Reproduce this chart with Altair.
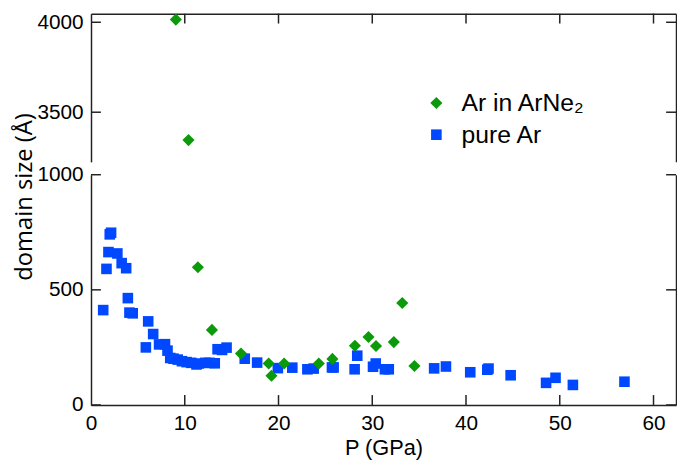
import altair as alt
import pandas as pd

series_names = ["Ar in ArNe₂", "pure Ar"]
series_colors = ["#0a9a0a", "#0048ff"]
series_shapes = ["diamond", "square"]

arne2_p = [9.05, 10.4, 11.4, 12.9, 16.0, 18.95, 19.25, 20.6, 24.3, 25.75, 28.15,
           29.6, 30.4, 32.3, 33.2, 34.5]
arne2_d = [4015, 3345, 598, 326, 223, 180, 127, 180, 180, 200, 257,
           295, 256, 273, 443, 169]

pure_p = [1.3, 1.65, 1.86, 2.0, 2.14, 2.81, 3.27, 3.75, 3.93, 4.1,
          4.45, 5.85, 6.1, 6.63, 7.26, 7.89, 8.16, 8.45, 8.8, 9.25,
          9.7, 10.2, 10.68, 11.25, 11.5, 12.2, 12.65, 13.2, 13.5, 13.98,
          14.46, 16.4, 17.72, 19.93, 21.47, 23.08, 23.75, 25.7, 25.88, 28.12,
          28.4, 30.08, 30.37, 31.35, 31.76, 36.6, 37.86, 40.45, 42.27, 42.4,
          44.76, 48.54, 49.55, 51.4, 56.9]
pure_d = [412, 591, 664, 741, 748, 658, 616, 594, 464, 401,
          398, 250, 363, 308, 263, 264, 236, 204, 201, 197,
          190, 186, 183, 176, 180, 183, 183, 181, 242, 239,
          249, 201, 184, 160, 162, 155, 158, 163, 163, 155,
          214, 166, 180, 155, 155, 159, 167, 142, 153, 158,
          129, 96, 118, 87, 101]

x_ticks = [0, 10, 20, 30, 40, 50, 60]
x_domain = [0, 62.4]
upper_ticks = [3500, 4000]
upper_domain = [3224, 4048]
lower_ticks = [0, 500, 1000]
lower_domain = [0, 1000]

df = pd.concat([
    pd.DataFrame({"P": arne2_p, "d": arne2_d, "series": series_names[0]}),
    pd.DataFrame({"P": pure_p, "d": pure_d, "series": series_names[1]}),
], ignore_index=True)

FONT = "Liberation Sans"
TITLE_FONT = "Open Sans"
AXC = "#222"
TICK = 10
W = 592

legend = alt.Legend(orient="none", legendX=337, legendY=78, title=None,
                    labelFont=FONT, labelFontSize=25, labelColor="black",
                    symbolSize=110, rowPadding=6, labelOffset=13, padding=0)
color = alt.Color("series:N", scale=alt.Scale(domain=series_names, range=series_colors),
                  legend=legend)
shape = alt.Shape("series:N", scale=alt.Scale(domain=series_names, range=series_shapes),
                  legend=legend)
size = alt.Size("series:N", scale=alt.Scale(domain=series_names, range=[150, 115]),
                legend=None)


def panel(domain, ticks, height, x_axis, left_title, top):
    xscale = alt.Scale(domain=x_domain, nice=False)
    yscale = alt.Scale(domain=domain, nice=False, zero=False)
    xenc = alt.X("P:Q", scale=xscale, axis=x_axis)
    left_axis = alt.Axis(orient="left", values=ticks, ticks=False, labelPadding=8,
                         format="d", title=left_title, titlePadding=1, titleY=22,
                         titleFont=TITLE_FONT, titleFontSize=24)
    right_axis = alt.Axis(orient="right", values=ticks, ticks=False, labels=False,
                          title=None)

    # inward tick marks drawn from the tick value lists through the shared scales
    xt = alt.Chart(pd.DataFrame({"P": x_ticks[1:]})).mark_rule(
        color=AXC, strokeWidth=1.5).encode(
        x=xenc,
        y=alt.value(0 if top else height),
        y2=alt.value(TICK if top else height - TICK))
    yt_left = alt.Chart(pd.DataFrame({"d": ticks})).mark_rule(
        color=AXC, strokeWidth=1.5).encode(
        y=alt.Y("d:Q", scale=yscale, axis=None), x=alt.value(0), x2=alt.value(TICK))
    yt_right = alt.Chart(pd.DataFrame({"d": ticks})).mark_rule(
        color=AXC, strokeWidth=1.5).encode(
        y=alt.Y("d:Q", scale=yscale, axis=None), x=alt.value(W), x2=alt.value(W - TICK))

    base = alt.Chart(df).transform_filter(
        f"datum.d >= {domain[0]} && datum.d <= {domain[1]}"
    ).mark_point(filled=True, opacity=1)
    blue = base.transform_filter(f"datum.series == '{series_names[1]}'").encode(
        x=xenc, y=alt.Y("d:Q", scale=yscale, axis=right_axis),
        color=color, shape=shape, size=size)
    green = base.transform_filter(f"datum.series == '{series_names[0]}'").encode(
        x=xenc, y=alt.Y("d:Q", scale=yscale, axis=left_axis),
        color=color, shape=shape, size=size)
    return alt.layer(xt, yt_left, yt_right, blue, green).resolve_axis(
        y="independent").properties(width=W, height=height)


upper_x = alt.Axis(orient="top", values=x_ticks, labels=False, ticks=False, title=None)
lower_x = alt.Axis(orient="bottom", values=x_ticks, title="P (GPa)", ticks=False,
                   labelPadding=8, labelFlush=False, titlePadding=4, titleFontSize=22)

upper = panel(upper_domain, upper_ticks, 150, upper_x, None, True)
lower = panel(lower_domain, lower_ticks, 233, lower_x, "domain size (Å)", False)

chart = alt.vconcat(upper, lower, spacing=13, bounds="flush").properties(
    padding={"left": 4, "top": 0, "right": 0, "bottom": 0}
).configure_view(stroke=None).configure_axis(
    grid=False, domainColor=AXC, domainWidth=1.5,
    labelFont=FONT, labelFontSize=21, labelColor="black",
    titleFont=FONT, titleFontSize=22, titleFontWeight="normal", titleColor="black"
)

chart.save("out.html", embed_options={"renderer": "svg", "actions": False})
